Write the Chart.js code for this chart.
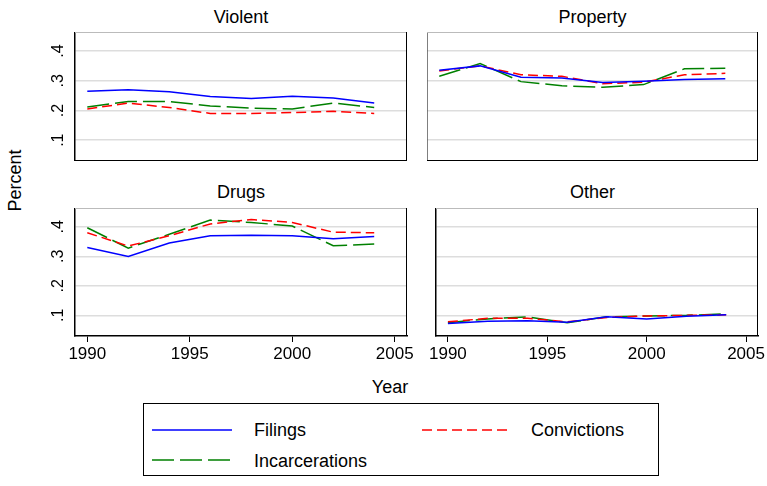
<!DOCTYPE html>
<html><head><meta charset="utf-8">
<script src="https://cdn.jsdelivr.net/npm/chart.js@4"></script>
<style>
body{margin:0;background:#fff;font-family:"Liberation Sans",Arial,sans-serif;}
#wrap{position:relative;width:767px;height:486px;}
.t{position:absolute;font-size:18px;color:#000;text-align:center;}
canvas{position:absolute;}
</style></head><body><div id="wrap">
<div class="t" style="left:75px;width:332px;top:7px">Violent</div>
<div class="t" style="left:427px;width:331px;top:7px">Property</div>
<div class="t" style="left:75px;width:332px;top:182px">Drugs</div>
<div class="t" style="left:427px;width:331px;top:182px">Other</div>
<div class="t" style="left:360px;width:60px;top:377px">Year</div>
<div class="t" style="left:-20px;width:70px;top:170px;transform:rotate(-90deg)">Percent</div>
<div style="position:absolute;left:143px;top:403px;width:514px;height:71px;border:1px solid #000;font-size:18px">
 <svg style="position:absolute;left:8px;top:19px" width="80" height="40">
  <line x1="0" y1="7" x2="80" y2="7" stroke="#0000ff" stroke-width="1.5"/>
  <line x1="0" y1="37" x2="80" y2="37" stroke="#008000" stroke-width="1.5" stroke-dasharray="22,6"/>
 </svg>
 <span style="position:absolute;left:110px;top:16px">Filings</span>
 <span style="position:absolute;left:110px;top:47px">Incarcerations</span>
 <svg style="position:absolute;left:278px;top:19px" width="90" height="20">
  <line x1="0" y1="7" x2="90" y2="7" stroke="#ff0000" stroke-width="1.5" stroke-dasharray="10,5"/>
 </svg>
 <span style="position:absolute;left:387px;top:16px">Convictions</span>
</div>
<canvas id="c0"></canvas><canvas id="c1"></canvas><canvas id="c2"></canvas><canvas id="c3"></canvas>
</div>
<script>
const years = [1990,1992,1994,1996,1998,2000,2002,2004];
const xTicks = [1990,1995,2000,2005];
const yTicks = [0.1,0.2,0.3,0.4];
const yTickLabels = [".1",".2",".3",".4"];

const violentFilings = [.265,.27,.263,.247,.24,.248,.242,.225];
const violentConv    = [.205,.225,.21,.19,.19,.193,.197,.19];
const violentInc     = [.212,.23,.23,.215,.208,.205,.225,.21];

const propertyFilings = [.335,.35,.312,.309,.294,.298,.304,.307];
const propertyConv    = [.333,.35,.32,.315,.29,.295,.32,.325];
const propertyInc     = [.315,.358,.297,.283,.278,.287,.34,.342];

const drugsFilings = [.33,.3,.345,.37,.372,.37,.36,.367];
const drugsConv    = [.38,.335,.37,.41,.425,.415,.382,.38];
const drugsInc     = [.397,.328,.375,.423,.415,.403,.336,.342];

const otherFilings = [.072,.08,.082,.077,.095,.088,.097,.102];
const otherConv    = [.078,.09,.09,.078,.093,.098,.1,.102];
const otherInc     = [.075,.088,.095,.075,.095,.098,.1,.105];

const frame = {
  id:"frame",
  afterDraw(ch, args, o){
    const a = ch.chartArea, c = ch.ctx;
    c.save();
    c.strokeStyle="#bbb"; c.lineWidth=1;
    c.beginPath(); c.moveTo(a.left,a.top+0.5); c.lineTo(a.right,a.top+0.5); c.stroke();
    c.strokeStyle="#000";
    c.beginPath(); c.moveTo(a.right-0.5,a.top); c.lineTo(a.right-0.5,a.bottom); c.stroke();
    if (o.yLabels){
      const y = ch.scales.y;
      c.fillStyle="#000"; c.font='16px "Liberation Sans"'; c.textAlign="center"; c.textBaseline="bottom";
      yTicks.forEach((v,i)=>{
        c.save(); c.translate(a.left-8, y.getPixelForValue(v)); c.rotate(-Math.PI/2);
        c.fillText(yTickLabels[i],0,0); c.restore();
      });
    }
    c.restore();
  }
};

function panel(id, left, top, w, h, series, showY, showX){
  const cv = document.getElementById(id);
  const padR = showX ? 18 : 0;
  cv.style.left = left+"px"; cv.style.top = top+"px";
  cv.width = w + padR; cv.height = h + (showX?30:0);
  cv.style.width = cv.width+"px"; cv.style.height = cv.height+"px";
  const ds = [
    {data:series[0], borderColor:"#0000ff", borderDash:[]},
    {data:series[1], borderColor:"#ff0000", borderDash:[10,5]},
    {data:series[2], borderColor:"#008000", borderDash:[22,6]}
  ].map(d=>({...d, data:years.map((x,i)=>({x, y:d.data[i]})), borderWidth:1.5, pointRadius:0, tension:0, fill:false}));
  new Chart(cv, {
    type:"line",
    data:{datasets:ds},
    plugins:[frame],
    options:{
      responsive:false, animation:false, events:[],
      layout:{padding:{left:0,right:padR,top:0,bottom:0}},
      plugins:{legend:{display:false}, tooltip:{enabled:false}, frame:{yLabels:showY}},
      scales:{
        x:{type:"linear", min:1989.4, max:2005.6,
          afterBuildTicks:s=>{s.ticks = xTicks.map(v=>({value:v}));},
          afterFit:s=>{s.height = showX?30:0;},
          grid:{display:showX, drawOnChartArea:false, drawTicks:true, tickLength:6, color:"#000"},
          border:{color:"#000", width:1.5},
          ticks:{display:showX, color:"#000", font:{family:"Liberation Sans", size:17}, maxRotation:0, padding:2,
            callback:v=>String(v)}},
        y:{min:0.03, max:0.464,
          afterBuildTicks:s=>{s.ticks = yTicks.map(v=>({value:v}));},
          afterFit:s=>{s.width = showY?35:0;},
          grid:{color:"#ddd", lineWidth:1.5, drawTicks:false},
          border:{color:"#000", width:1.5},
          ticks:{display:false}}
      }
    }
  });
}
panel("c0", 40, 32, 367, 129, [violentFilings, violentConv, violentInc], true, false);
panel("c1", 427, 32, 331, 129, [propertyFilings, propertyConv, propertyInc], false, false);
panel("c2", 40, 208, 367, 128, [drugsFilings, drugsConv, drugsInc], true, true);
panel("c3", 427, 208, 331, 128, [otherFilings, otherConv, otherInc], false, true);
</script></body></html>
